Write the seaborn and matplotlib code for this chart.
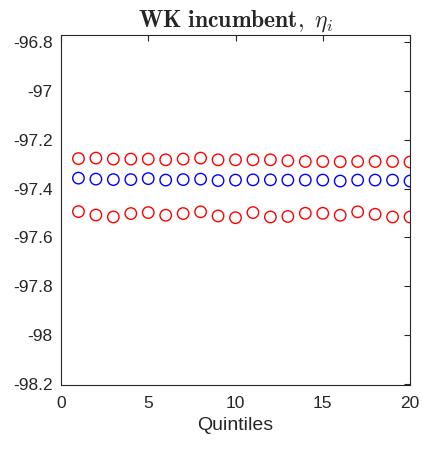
import matplotlib
matplotlib.use("Agg")
import matplotlib.pyplot as plt
import seaborn as sns
import pandas as pd
import numpy as np

quintiles = list(range(1, 21))
upper_red = [-97.277, -97.275, -97.279, -97.279, -97.279, -97.282, -97.279, -97.275, -97.282, -97.282,
             -97.282, -97.282, -97.286, -97.289, -97.289, -97.290, -97.289, -97.289, -97.289, -97.291]
blue_mid = [-97.357, -97.361, -97.363, -97.363, -97.359, -97.365, -97.363, -97.361, -97.367, -97.365,
            -97.364, -97.364, -97.365, -97.365, -97.365, -97.369, -97.365, -97.365, -97.365, -97.369]
lower_red = [-97.494, -97.508, -97.516, -97.502, -97.498, -97.509, -97.502, -97.495, -97.512, -97.519,
             -97.498, -97.516, -97.514, -97.501, -97.501, -97.509, -97.495, -97.505, -97.516, -97.516]
series_names = ["upper", "estimate", "lower"]
series_colors = ["#ff0000", "#0000ff", "#ff0000"]
x_ticks = [0, 5, 10, 15, 20]
y_ticks = [-98.2, -98.0, -97.8, -97.6, -97.4, -97.2, -97.0, -96.8]
y_ticklabels = ["-98.2", "-98", "-97.8", "-97.6", "-97.4", "-97.2", "-97", "-96.8"]

sns.set_style("white")
plt.rcParams['font.family'] = ['Liberation Sans', 'DejaVu Sans']
plt.rcParams['mathtext.fontset'] = 'cm'

df = pd.concat([
    pd.DataFrame({"x": quintiles, "y": vals, "s": name})
    for name, vals in zip(series_names, [upper_red, blue_mid, lower_red])
])

fig = plt.figure(figsize=(4.23, 4.5), dpi=100)
ax = fig.add_axes([61/423, 1-385/450, (410-61)/423, (385-35)/450])

for name, col in zip(series_names, series_colors):
    sub = df[df.s == name]
    sns.scatterplot(data=sub, x="x", y="y", ax=ax, marker="o", s=68, legend=False)
    coll = ax.collections[-1]
    coll.set_facecolor("none")
    coll.set_edgecolor(col)
    coll.set_linewidth(1.0)

ax.set_xlim(0, 20)
ax.set_ylim(-98.204, -96.771)
ax.set_xticks(x_ticks)
ax.set_yticks(y_ticks)
ax.set_yticklabels(y_ticklabels)
ax.tick_params(direction="in", length=4, width=0.8, colors="#262626", labelsize=12.5,
               top=True, right=True, labelcolor="#262626")
ax.tick_params(axis="x", pad=8)
ax.tick_params(axis="y", pad=6)
for sp in ax.spines.values():
    sp.set_visible(True)
    sp.set_color("#262626")
    sp.set_linewidth(0.8)
ax.set_xlabel("Quintiles", fontsize=14, color="#262626", labelpad=4)
ax.set_ylabel("")
ax.set_title(r"$\mathbf{WK\ incumbent},\ \eta_i$", fontsize=17, pad=6)

fig.savefig("out.png", dpi=100)
